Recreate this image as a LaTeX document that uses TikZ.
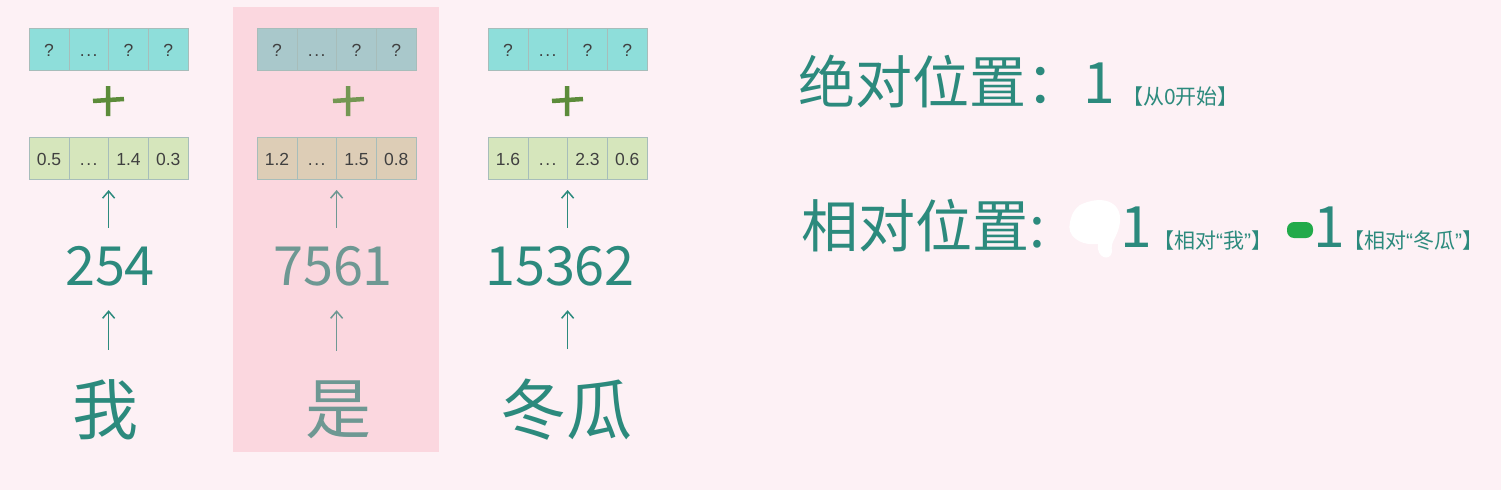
\documentclass[tikz,border=0pt]{standalone}
\usepackage{fontspec}
\usepackage{xcolor}
\usepackage{tikz}
\usetikzlibrary{positioning,arrows.meta}
\setmainfont{Noto Sans CJK SC}
\newfontfamily\cellfont{Liberation Sans}
\newcommand{\openq}{{\cellfont “}}
\newcommand{\closeq}{{\cellfont ”}}
\newcommand{\celldots}{.\kern1.5pt.\kern1.5pt.}
\definecolor{bgpink}{HTML}{FDF1F5}
\definecolor{hlpink}{HTML}{FBD7DF}
\definecolor{tealtxt}{HTML}{2C8A7D}
\definecolor{hltxt}{HTML}{6E9893}
\definecolor{qfill}{HTML}{8EDEDA}
\definecolor{qfillhl}{HTML}{A9C8CB}
\definecolor{vfill}{HTML}{D6E6BC}
\definecolor{vfillhl}{HTML}{DDCDB6}
\definecolor{celledge}{HTML}{A7BDBA}
\definecolor{plusgreen}{HTML}{5C8C3A}
\definecolor{markgreen}{HTML}{22AA4A}

\begin{document}
\begin{tikzpicture}[x=1pt, y=-1pt,
  qcell/.style={draw=celledge, fill=qfill, minimum width=39.75pt, minimum height=42pt, inner sep=0pt, outer sep=0pt, text height=15pt, text depth=0pt, font=\cellfont\fontsize{17.5}{19}\selectfont, text=black!75},
  qcellhl/.style={qcell, fill=qfillhl},
  vcell/.style={qcell, fill=vfill},
  vcellhl/.style={qcell, fill=vfillhl},
  plusmark/.style={draw=plusgreen, line width=4.5pt},
  num/.style={anchor=base, inner sep=0pt, text height=40pt, text depth=0pt, font=\fontsize{54}{60}\selectfont, text=tealtxt},
  word/.style={inner sep=0pt, font=\fontsize{66}{70}\selectfont, text=tealtxt},
  uparr/.style={-{Straight Barb[length=7pt, width=12pt]}, draw=tealtxt, line width=1.5pt},
  bigtxt/.style={anchor=base west, inner sep=0pt, font=\fontsize{57}{60}\selectfont, text=tealtxt},
  smalltxt/.style={anchor=base west, inner sep=0pt, font=\fontsize{21}{24}\selectfont, text=tealtxt}
]
\fill[bgpink] (0,0) rectangle (1501,490);
\useasboundingbox (0,0) rectangle (1501,490);
\fill[hlpink] (233,7) rectangle (439,452);

% column 1
\node[qcell] (qa1) at (49,49) {?};
\node[qcell, right=0pt of qa1] (qa2) {\celldots};
\node[qcell, right=0pt of qa2] (qa3) {?};
\node[qcell, right=0pt of qa3] (qa4) {?};
\draw[plusmark] (93,101) -- (124,99) (108,86) -- (108,116);
\node[vcell] (va1) at (49,158) {0.5};
\node[vcell, right=0pt of va1] (va2) {\celldots};
\node[vcell, right=0pt of va2] (va3) {1.4};
\node[vcell, right=0pt of va3] (va4) {0.3};
\node[num] (na) at (110,285) {254};
\node[word] (wa) at (105,410) {我};

% column 2
\node[qcellhl] (qb1) at (277,49) {?};
\node[qcellhl, right=0pt of qb1] (qb2) {\celldots};
\node[qcellhl, right=0pt of qb2] (qb3) {?};
\node[qcellhl, right=0pt of qb3] (qb4) {?};
\draw[plusmark, draw=plusgreen!85!hlpink] (333,101) -- (364,99) (348,86) -- (348,116);
\node[vcellhl] (vb1) at (277,158) {1.2};
\node[vcellhl, right=0pt of vb1] (vb2) {\celldots};
\node[vcellhl, right=0pt of vb2] (vb3) {1.5};
\node[vcellhl, right=0pt of vb3] (vb4) {0.8};
\node[num, text=hltxt] (nb) at (333,285) {7561};
\node[word, text=hltxt] (wb) at (338,410) {是};

% column 3
\node[qcell] (qc1) at (508,49) {?};
\node[qcell, right=0pt of qc1] (qc2) {\celldots};
\node[qcell, right=0pt of qc2] (qc3) {?};
\node[qcell, right=0pt of qc3] (qc4) {?};
\draw[plusmark] (552,101) -- (583,99) (567,86) -- (567,116);
\node[vcell] (vc1) at (508,158) {1.6};
\node[vcell, right=0pt of vc1] (vc2) {\celldots};
\node[vcell, right=0pt of vc2] (vc3) {2.3};
\node[vcell, right=0pt of vc3] (vc4) {0.6};
\node[num] (nc) at (560,285) {15362};
\node[word] (wc) at (566,410) {冬瓜};

\draw[uparr, shorten <=17pt, shorten >=11pt] (na.north -| va2.south east) -- (va2.south east);
\draw[uparr, shorten <=30pt, shorten >=25pt] (wa.north -| va2.south east) -- (na.south -| va2.south east);
\draw[uparr, draw=hltxt, shorten <=17pt, shorten >=11pt] (nb.north -| vb2.south east) -- (vb2.south east);
\draw[uparr, draw=hltxt, shorten <=30pt, shorten >=25pt] (wb.north -| vb2.south east) -- (nb.south -| vb2.south east);
\draw[uparr, shorten <=17pt, shorten >=11pt] (nc.north -| vc2.south east) -- (vc2.south east);
\draw[uparr, shorten <=30pt, shorten >=25pt] (wc.north -| vc2.south east) -- (nc.south -| vc2.south east);

% right side
\node[bigtxt] (abs) at (798,103) {绝对位置：1};
\node[smalltxt] (absnote) at (1122,104) {【从0开始】};
\node[bigtxt] (rel) at (801,247) {相对位置:};
\fill[white] (1080,205) .. controls (1100,195) and (1122,200) .. (1120,222) .. controls (1118,238) and (1110,240) .. (1112,252) .. controls (1110,262) and (1096,258) .. (1098,244) .. controls (1080,246) and (1066,236) .. (1070,222) .. controls (1072,212) and (1076,208) .. (1080,205) -- cycle;
\node[bigtxt] (rela) at (1120,247) {1};
\node[smalltxt] (relanote) at (1153,248) {【相对\openq 我\closeq】};
\fill[markgreen, rounded corners=7pt] (1287,222) rectangle (1313,238);
\node[bigtxt] (relb) at (1313,247) {1};
\node[smalltxt] (relbnote) at (1343,248) {【相对\openq 冬瓜\closeq】};
\end{tikzpicture}
\end{document}
